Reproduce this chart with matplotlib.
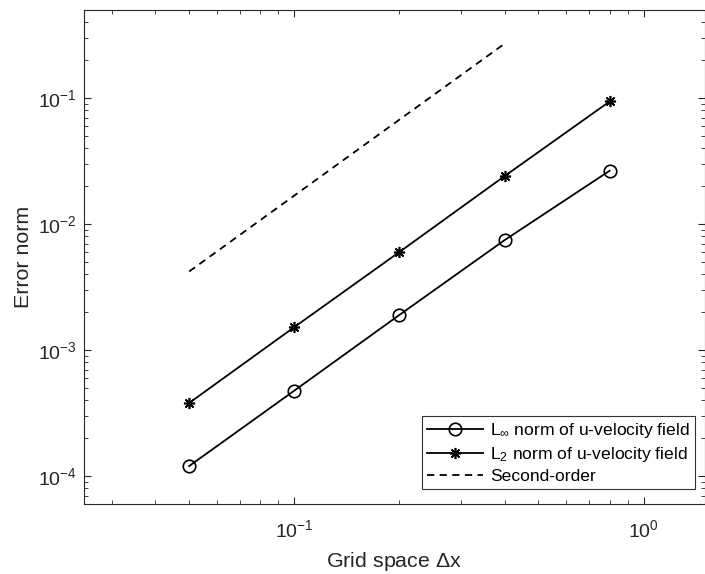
import matplotlib
matplotlib.use("Agg")
import matplotlib.pyplot as plt

plt.rcParams['font.family'] = ['Liberation Sans', 'DejaVu Sans']
plt.rcParams['mathtext.fontset'] = 'custom'
plt.rcParams['mathtext.rm'] = 'Liberation Sans'
plt.rcParams['mathtext.it'] = 'Liberation Sans'

dx = [0.05, 0.1, 0.2, 0.4, 0.8]
linf = [1.20e-4, 4.76e-4, 1.90e-3, 7.45e-3, 2.65e-2]
l2 = [3.80e-4, 1.52e-3, 6.0e-3, 2.40e-2, 9.4e-2]
ref_dx = [0.05, 0.4]
ref_err = [4.2e-3, 0.27]

labels = [r'L$_\infty$ norm of u-velocity field',
          r'L$_2$ norm of u-velocity field',
          'Second-order']

fig = plt.figure(figsize=(7.05, 5.74), dpi=100)
ax = fig.add_axes([84/705, 70/574, (705-84)/705, 494/574])

ax.loglog(dx, linf, '-', color='black', lw=1.3, marker='o', ms=9,
          mfc='none', mec='black', mew=1.2, label=labels[0])
ax.loglog(dx, l2, '-', color='black', lw=1.3, marker=(8, 2, 0), ms=8,
          mec='black', mew=1.2, label=labels[1])
ax.loglog(ref_dx, ref_err, '--', color='black', lw=1.3, dashes=(4, 3),
          label=labels[2])

ax.set_xlim(0.025, 1.5)
ax.set_ylim(6e-5, 0.5)

tc = '#262626'
ax.tick_params(which='both', direction='in', top=True, right=True,
               colors=tc, labelsize=14)
ax.tick_params(which='major', length=5, width=0.8)
ax.tick_params(which='minor', length=3, width=0.6)
ax.tick_params(axis='x', which='major', pad=11)
ax.tick_params(axis='y', which='major', pad=5)
for s in ax.spines.values():
    s.set_color(tc)
    s.set_linewidth(0.8)

ax.set_xlabel(r'Grid space $\Delta$x', fontsize=15.4, color=tc, labelpad=6)
ax.set_ylabel('Error norm', fontsize=15.4, color=tc, labelpad=4)

leg = ax.legend(loc='lower right', bbox_to_anchor=(0.984, 0.03),
                borderaxespad=0, fontsize=12.6, frameon=True, fancybox=False,
                edgecolor='black', handlelength=3.2, handletextpad=0.4,
                labelspacing=0.28, borderpad=0.3)
leg.get_frame().set_linewidth(0.8)

fig.savefig('out.png', dpi=100)
